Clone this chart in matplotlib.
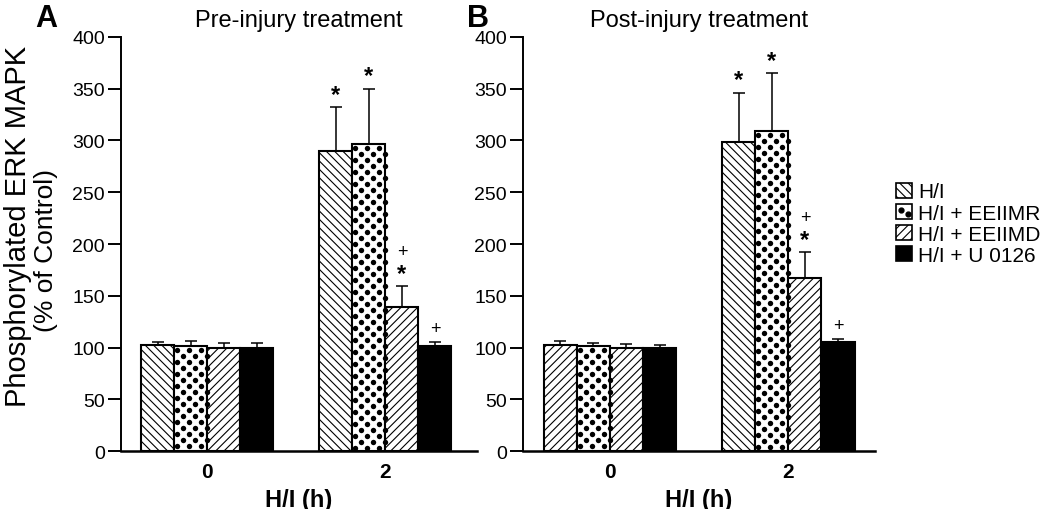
import matplotlib
matplotlib.use("Agg")
import matplotlib.pyplot as plt
import numpy as np
from matplotlib.patches import Patch, Rectangle
from matplotlib.lines import Line2D
from matplotlib.legend_handler import HandlerBase

plt.rcParams["font.family"] = ["Liberation Sans", "DejaVu Sans"]
plt.rcParams["hatch.linewidth"] = 0.8

# data
groups = ["0", "2"]
series = ["H/I", "H/I + EEIIMR", "H/I + EEIIMD", "H/I + U 0126"]

pre_values = [[102, 101, 100, 100], [290, 297, 139, 101]]
pre_errors = [[3, 5, 4, 4], [42, 53, 20, 4]]
pre_marks = [["", "", "", ""], ["*", "*", "*+", "+"]]

post_values = [[102, 101, 100, 100], [299, 309, 167, 105]]
post_errors = [[4, 3, 3, 2], [47, 56, 25, 3]]
post_marks = [["", "", "", ""], ["*", "*", "*+", "+"]]

HATCHES = ["\\\\\\\\", "dots", "////", None]
FACES = ["white", "white", "white", "black"]
WIDTH = 0.1854


def add_dots(ax, bar):
    # dotted texture in pixel space, clipped to the bar
    (x0, y0), (x1, y1) = ax.transData.transform(
        [(bar.get_x(), 0), (bar.get_x() + bar.get_width(), bar.get_height())])
    pts = []
    row = 0
    y = y1 - 4
    while y > y0:
        x = x0 + (3 if row % 2 == 0 else 9)
        while x < x1 + 3:
            pts.append((x, y))
            x += 12
        y -= 6
        row += 1
    data = ax.transData.inverted().transform(np.array(pts))
    ax.scatter(data[:, 0], data[:, 1], s=15, color="black", linewidths=0,
               clip_path=bar, zorder=4)


def draw_panel(ax, values, errors, marks, title, hatches_override=None):
    for g, (vals, errs, mk) in enumerate(zip(values, errors, marks)):
        for i in range(len(series)):
            x = g + (i - 1.5) * WIDTH
            hatch = HATCHES[i]
            if hatches_override and (g, i) in hatches_override:
                hatch = hatches_override[(g, i)]
            bar = ax.bar(x, vals[i], WIDTH, color=FACES[i], edgecolor="black",
                         linewidth=1.5, hatch=None if hatch == "dots" else hatch,
                         zorder=3)[0]
            if hatch == "dots":
                add_dots(ax, bar)
            ax.errorbar(x, vals[i], yerr=errs[i], color="black", elinewidth=1.1,
                        capsize=4, capthick=1.1, zorder=2)
            top = vals[i] + errs[i]
            if "*" in mk[i]:
                ax.annotate("*", (x, top), xytext=(0, 1), textcoords="offset points",
                            ha="center", va="bottom", fontsize=17, fontweight="bold")
            if "+" in mk[i]:
                dy = 19 if "*" in mk[i] else 4
                ax.annotate("+", (x, top), xytext=(0, dy), textcoords="offset points",
                            ha="center", va="bottom", fontsize=13)
    ax.set_yticks(range(0, 401, 50))
    ax.set_xticks(range(len(groups)), groups, fontsize=15, fontweight="bold")
    ax.tick_params(axis="x", length=0, pad=8)
    ax.tick_params(axis="y", length=9.5, width=1.4, labelsize=14, pad=2)
    ax.spines["top"].set_visible(False)
    ax.spines["right"].set_visible(False)
    ax.spines["left"].set_bounds(0, 400)
    ax.spines["left"].set_linewidth(1.4)
    ax.spines["bottom"].set_linewidth(1.8)
    ax.set_xlabel("H/I (h)", fontsize=17, fontweight="bold", labelpad=5)
    ax.set_title(title, fontsize=17, pad=8)


class DotHandler(HandlerBase):
    def create_artists(self, legend, orig_handle, xdescent, ydescent, width,
                       height, fontsize, trans):
        box = Rectangle((-xdescent, -ydescent), width, height, facecolor="white",
                        edgecolor="black", linewidth=1.2, transform=trans)
        dots = Line2D([-xdescent + width * 0.3, -xdescent + width * 0.72],
                      [-ydescent + height * 0.55, -ydescent + height * 0.35],
                      linestyle="none", marker="o", markersize=3.5, color="black",
                      transform=trans)
        return [box, dots]


fig = plt.figure(figsize=(10.5, 5.1), dpi=100)
ax_a = fig.add_axes([0.1152, 0.1137, 0.339, 0.8118])
ax_b = fig.add_axes([0.4981, 0.1137, 0.3352, 0.8118])
for ax, lim in ((ax_a, (-0.485, 1.514)), (ax_b, (-0.487, 1.485))):
    ax.set_xlim(*lim)
    ax.set_ylim(0, 400)

draw_panel(ax_a, pre_values, pre_errors, pre_marks, "Pre-injury treatment")
draw_panel(ax_b, post_values, post_errors, post_marks, "Post-injury treatment",
           hatches_override={(0, 0): "////"})

# two-line y label, first line set a little larger as in the original
fig.text(18 / 1050, 1 - 226 / 510, "Phosphorylated ERK MAPK", fontsize=21,
         rotation=90, ha="center", va="center")
fig.text(46 / 1050, 1 - 250 / 510, "(% of Control)", fontsize=19,
         rotation=90, ha="center", va="center")

fig.text(35 / 1050, 1 - 4 / 510, "A", fontsize=22, fontweight="bold", va="top")
fig.text(467 / 1050, 1 - 4 / 510, "B", fontsize=22, fontweight="bold", va="top")

handles = [Patch(facecolor=FACES[i], edgecolor="black", linewidth=1.2,
                 hatch=HATCHES[i] if HATCHES[i] != "dots" else None) for i in range(4)]
handler_map = {handles[1]: DotHandler()}
fig.legend(handles, series, loc="upper left", bbox_to_anchor=(886 / 1050, 1 - 173 / 510),
           frameon=False, fontsize=15, handlelength=0.75, handleheight=0.75,
           handletextpad=0.3, labelspacing=0.1, borderpad=0, handler_map=handler_map)

fig.savefig("out.png", dpi=100)
